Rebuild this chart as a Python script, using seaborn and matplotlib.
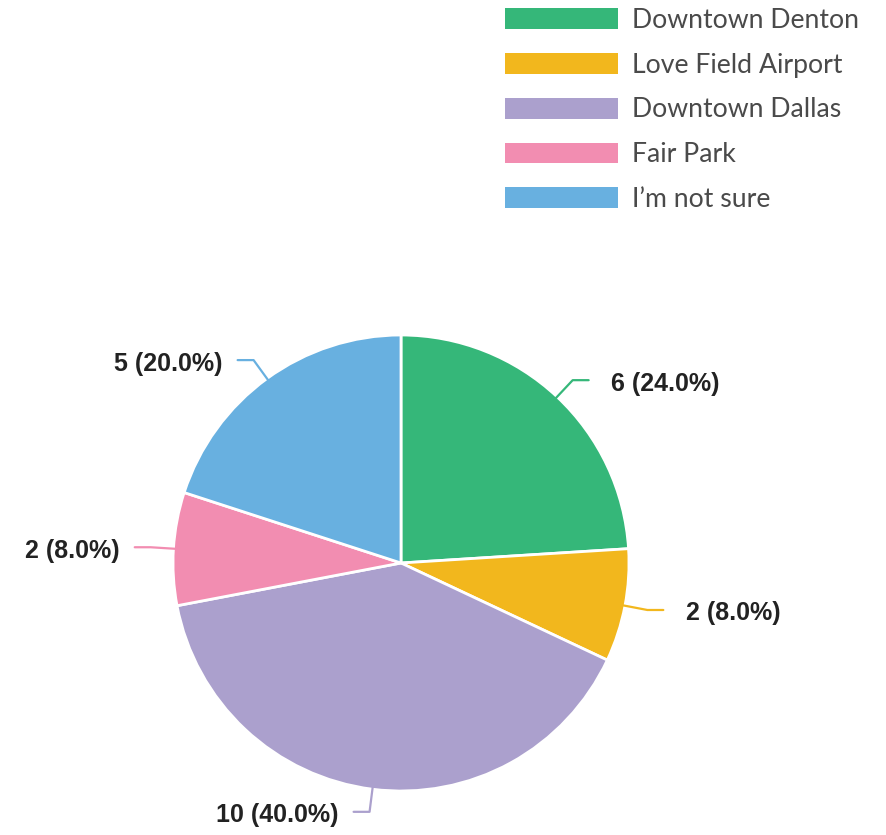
import numpy as np
import matplotlib
matplotlib.use("Agg")
import matplotlib.pyplot as plt
import seaborn as sns

sns.set_theme(style="white")
plt.rcParams['font.family'] = ['Liberation Sans', 'DejaVu Sans']

categories = ["Downtown Denton", "Love Field Airport", "Downtown Dallas", "Fair Park", "I\u2019m not sure"]
counts = [6, 2, 10, 2, 5]
colors = ["#35b779", "#f2b71d", "#aba0cd", "#f28db1", "#68b0e0"]

W, H = 887, 835
fig = plt.figure(figsize=(W / 100, H / 100), dpi=100)
ax = fig.add_axes([0, 0, 1, 1])
cx, cy, R = 401, 563, 228

wedges, _ = ax.pie(counts, colors=colors, startangle=90, counterclock=False,
                   radius=1.0, center=(0, 0), frame=False,
                   wedgeprops=dict(edgecolor="white", linewidth=2))
ax.set_xlim(-cx / R, (W - cx) / R)
ax.set_ylim((cy - H) / R, cy / R)
ax.set_aspect('auto')
ax.axis('off')

total = sum(counts)
for w, c, col in zip(wedges, counts, colors):
    ang = np.deg2rad((w.theta1 + w.theta2) / 2)
    ca, sa = np.cos(ang), np.sin(ang)
    r0, r1 = 0.98, 1.1
    x0, y0 = r0 * ca, r0 * sa
    x1, y1 = r1 * ca, r1 * sa
    side = 1 if ca >= 0 else -1
    x2 = x1 + side * 0.07
    ax.plot([x0, x1, x2], [y0, y1, y1], color=col, lw=1.6,
            solid_joinstyle='round', solid_capstyle='round')
    gap = 0.1 if side > 0 else 0.065
    ax.text(x2 + side * gap, y1 - 0.015, f"{c} ({100 * c / total:.1f}%)",
            ha='left' if side > 0 else 'right', va='center',
            fontsize=18, fontweight='bold', color='#222222')

leg = ax.legend(wedges, categories, loc='upper left',
                bbox_to_anchor=(505 / W, 1 - 8 / H), bbox_transform=fig.transFigure,
                frameon=False, borderpad=0, borderaxespad=0,
                handlelength=4.25, handleheight=0.82, handletextpad=0.52,
                labelspacing=0.74,
                prop={'family': ['Lato', 'DejaVu Sans'], 'size': 19.2})
for t in leg.get_texts():
    t.set_color('#4a4a4a')
for p in leg.get_patches():
    p.set_edgecolor('none')

fig.savefig("out.png", dpi=100)
